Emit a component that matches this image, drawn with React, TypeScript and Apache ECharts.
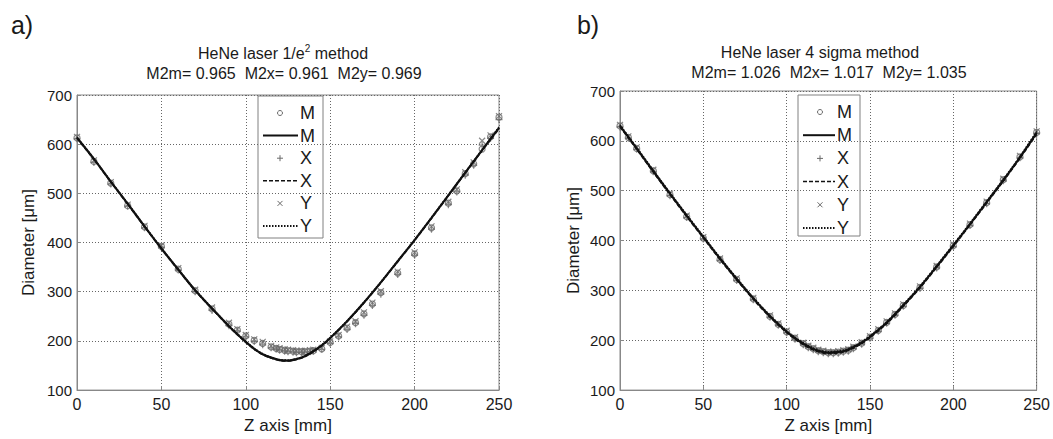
import React, { useEffect, useRef } from "react";
import * as echarts from "echarts";

const FONT = '"Liberation Sans", Arial, Helvetica, sans-serif';

// ---------- Panel a) HeNe laser 1/e^2 method ----------
const zPtsA = [0, 10, 20, 30, 40, 50, 60, 70, 80, 90, 95, 100, 105, 110, 115, 118, 120, 123, 125, 128, 130, 133, 135, 138, 140, 145, 150, 155, 160, 165, 170, 175, 180, 190, 200, 210, 220, 225, 230, 235, 240, 245, 250];
const mPtsA = [613, 565, 521, 475, 432, 392, 346, 302, 265, 234, 222, 210, 201, 195, 188, 185, 183, 181, 180, 179, 178, 178, 178, 179, 180, 184, 197, 210, 226, 237, 255, 275, 298, 338, 377, 430, 480, 505, 540, 560, 590, 615, 655];
const xPtsA = [611, 563, 519, 474, 430, 390, 344, 300, 262, 231, 220, 208, 199, 192, 186, 183, 181, 179, 178, 177, 176, 176, 177, 178, 179, 183, 195, 208, 223, 235, 252, 272, 295, 335, 374, 427, 477, 503, 537, 557, 598, 612, 650];
const yPtsA = [615, 567, 523, 477, 434, 394, 348, 304, 268, 237, 224, 212, 203, 198, 190, 187, 185, 183, 182, 181, 180, 180, 180, 181, 182, 186, 199, 212, 229, 240, 258, 278, 301, 341, 380, 433, 483, 508, 543, 563, 607, 618, 657];

const zFitA = [0, 10, 20, 30, 40, 50, 60, 70, 80, 90, 100, 105, 110, 115, 120, 125, 130, 135, 140, 145, 150, 160, 170, 180, 190, 200, 210, 220, 230, 240, 250];
const mFitA = [613, 570, 524, 479, 433, 388, 345, 303, 266, 230, 198, 184, 173, 166, 161, 160, 163, 169, 179, 191, 206, 240, 278, 319, 362, 405, 450, 496, 542, 588, 633];
const xFitA = [612, 569, 523, 478, 432, 387, 344, 302, 265, 229, 197, 183, 172, 165, 160, 159, 162, 168, 178, 190, 205, 239, 277, 318, 361, 404, 449, 495, 541, 587, 631];
const yFitA = [614, 571, 525, 480, 434, 389, 346, 304, 267, 231, 199, 185, 174, 167, 162, 161, 164, 170, 180, 192, 207, 241, 279, 320, 363, 406, 451, 497, 543, 589, 635];

// ---------- Panel b) HeNe laser 4 sigma method ----------
const zPtsB = [0, 5, 10, 20, 30, 40, 50, 60, 70, 80, 90, 95, 100, 105, 110, 113, 116, 119, 122, 125, 128, 131, 134, 137, 140, 145, 150, 155, 160, 165, 170, 180, 190, 200, 210, 220, 230, 240, 250];
const mPtsB = [630, 607, 585, 540, 492, 448, 405, 362, 322, 283, 248, 232, 217, 204, 193, 187, 183, 179, 177, 175, 175, 176, 178, 180, 185, 194, 206, 220, 236, 252, 270, 306, 347, 390, 432, 476, 522, 568, 617];
const xPtsB = [628, 605, 583, 538, 490, 446, 403, 360, 320, 281, 246, 230, 215, 202, 191, 185, 181, 177, 175, 173, 173, 174, 176, 178, 183, 192, 204, 218, 234, 250, 268, 304, 345, 388, 430, 474, 520, 566, 615];
const yPtsB = [632, 609, 587, 542, 494, 450, 407, 364, 324, 285, 250, 234, 219, 206, 195, 189, 185, 181, 179, 177, 177, 178, 180, 182, 187, 196, 208, 222, 238, 254, 272, 308, 349, 392, 434, 478, 524, 570, 619];

const zFitB = [0, 10, 20, 30, 40, 50, 60, 70, 80, 90, 100, 105, 110, 115, 120, 125, 130, 135, 140, 145, 150, 160, 170, 180, 190, 200, 210, 220, 230, 240, 250];
const mFitB = [630, 585, 539, 494, 450, 407, 364, 323, 284, 248, 217, 204, 193, 184, 178, 175, 176, 179, 186, 195, 207, 235, 270, 307, 348, 390, 433, 477, 521, 567, 616];
const xFitB = [628, 583, 537, 492, 448, 405, 362, 321, 282, 246, 215, 202, 191, 182, 176, 173, 174, 177, 184, 193, 205, 233, 268, 305, 346, 388, 431, 475, 519, 565, 613];
const yFitB = [632, 587, 541, 496, 452, 409, 366, 325, 286, 250, 219, 206, 195, 186, 180, 177, 178, 181, 188, 197, 209, 237, 272, 309, 350, 392, 435, 479, 523, 569, 619];

const xTicks = { min: 0, max: 250, interval: 50 };
const yTicks = { min: 100, max: 700, interval: 100 };
const titlesA = ["{n|HeNe laser 1/e}{s|2}{n| method}", "M2m= 0.965  M2x= 0.961  M2y= 0.969"];
const titlesB = ["{n|HeNe laser 4 sigma method}", "M2m= 1.026  M2x= 1.017  M2y= 1.035"];
const legendLabels = ["M", "M", "X", "X", "Y", "Y"];

const pair = (xs: number[], ys: number[]) => xs.map((x, i) => [x, ys[i]]);

const MARK = "#6a6a6a";
const LINE = "#111";
const TXT = "#1a1a1a";

function legendGroup(x0: number, y0: number, w: number, h: number, dy: number, lineEnd: number) {
  const children: any[] = [
    { type: "rect", shape: { x: 0, y: 0, width: w, height: h }, style: { fill: "#fff", stroke: "#808080", lineWidth: 1 } },
  ];
  const cy = (i: number) => 17 + dy * i;
  const mx = 22;
  children.push({ type: "circle", shape: { cx: mx, cy: cy(0), r: 2.5 }, style: { fill: "none", stroke: MARK, lineWidth: 1 } });
  children.push({ type: "line", shape: { x1: 5, y1: cy(1), x2: lineEnd, y2: cy(1) }, style: { stroke: LINE, lineWidth: 2 } });
  children.push({ type: "line", shape: { x1: mx - 3, y1: cy(2), x2: mx + 3, y2: cy(2) }, style: { stroke: MARK, lineWidth: 1 } });
  children.push({ type: "line", shape: { x1: mx, y1: cy(2) - 3, x2: mx, y2: cy(2) + 3 }, style: { stroke: MARK, lineWidth: 1 } });
  children.push({ type: "line", shape: { x1: 5, y1: cy(3), x2: lineEnd, y2: cy(3) }, style: { stroke: LINE, lineWidth: 1.5, lineDash: [4, 2] } });
  children.push({ type: "line", shape: { x1: mx - 2.5, y1: cy(4) - 2.5, x2: mx + 2.5, y2: cy(4) + 2.5 }, style: { stroke: MARK, lineWidth: 1 } });
  children.push({ type: "line", shape: { x1: mx - 2.5, y1: cy(4) + 2.5, x2: mx + 2.5, y2: cy(4) - 2.5 }, style: { stroke: MARK, lineWidth: 1 } });
  children.push({ type: "line", shape: { x1: 5, y1: cy(5), x2: lineEnd, y2: cy(5) }, style: { stroke: LINE, lineWidth: 2, lineDash: [1.5, 1.5] } });
  legendLabels.forEach((t, i) => {
    children.push({
      type: "text",
      x: lineEnd + 2,
      y: cy(i),
      style: { text: t, fill: TXT, fontSize: 18, fontFamily: FONT, align: "left", verticalAlign: "middle", textAlign: "left", textVerticalAlign: "middle" },
    });
  });
  return { type: "group", x: x0, y: y0, z: 100, children };
}

function textEl(text: string, x: number, y: number, fontSize: number, rich?: any) {
  return {
    type: "text",
    x,
    y,
    z: 100,
    style: {
      text,
      fill: TXT,
      fontSize,
      fontFamily: FONT,
      align: "center",
      verticalAlign: "middle",
      textAlign: "center",
      textVerticalAlign: "middle",
      rich,
    },
  };
}

const rich = {
  n: { fontSize: 16, fontFamily: FONT, color: TXT, lineHeight: 20 },
  s: { fontSize: 10, fontFamily: FONT, color: TXT, lineHeight: 20, verticalAlign: "top", padding: [0, 0, 0, 0] },
};

function axisX(gridIndex: number) {
  return {
    gridIndex,
    type: "value",
    ...xTicks,
    name: "Z axis [mm]",
    nameLocation: "middle",
    nameGap: 22,
    nameTextStyle: { fontSize: 17, color: TXT, fontFamily: FONT },
    axisLine: { show: true, onZero: false, lineStyle: { color: "#888" } },
    axisTick: { show: true, inside: true, length: 4, lineStyle: { color: "#888" } },
    axisLabel: { fontSize: 16, color: TXT, fontFamily: FONT, margin: 6 },
    splitLine: { show: true, lineStyle: { type: [1, 2], color: "#666", width: 1 } },
  };
}

function axisY(gridIndex: number, nameGap: number) {
  return {
    gridIndex,
    type: "value",
    ...yTicks,
    name: "Diameter [\u03bcm]",
    nameLocation: "middle",
    nameGap,
    nameTextStyle: { fontSize: 17, color: TXT, fontFamily: FONT },
    axisLine: { show: true, onZero: false, lineStyle: { color: "#888" } },
    axisTick: { show: true, inside: true, length: 4, lineStyle: { color: "#888" } },
    axisLabel: { fontSize: 15, color: TXT, fontFamily: FONT, margin: 5 },
    splitLine: { show: true, lineStyle: { type: [1, 2], color: "#666", width: 1 } },
  };
}

const PLUS = "path://M0,4L8,4M4,0L4,8";
const CROSS = "path://M0,0L8,8M0,8L8,0";

function panelSeries(idx: number, zP: number[], m: number[], x: number[], y: number[], zF: number[], mf: number[], xf: number[], yf: number[]) {
  const base = { xAxisIndex: idx, yAxisIndex: idx, silent: true };
  return [
    { ...base, type: "scatter", data: pair(zP, m), symbol: "circle", symbolSize: 6, itemStyle: { color: "transparent", borderColor: MARK, borderWidth: 1.2 } },
    { ...base, type: "scatter", data: pair(zP, x), symbol: PLUS, symbolSize: 7, itemStyle: { color: "transparent", borderColor: MARK, borderWidth: 1.2 } },
    { ...base, type: "scatter", data: pair(zP, y), symbol: CROSS, symbolSize: 6, itemStyle: { color: "transparent", borderColor: MARK, borderWidth: 1.2 } },
    { ...base, type: "line", data: pair(zF, mf), symbol: "none", smooth: 0.3, lineStyle: { color: LINE, width: 2.2 } },
    { ...base, type: "line", data: pair(zF, xf), symbol: "none", smooth: 0.3, lineStyle: { color: LINE, width: 1.5, type: [4, 2] } },
    { ...base, type: "line", data: pair(zF, yf), symbol: "none", smooth: 0.3, lineStyle: { color: LINE, width: 1.5, type: [1.5, 1.5] } },
  ];
}

export default function App() {
  const ref = useRef<HTMLDivElement>(null);
  useEffect(() => {
    if (!ref.current) return;
    const chart = echarts.init(ref.current, undefined, { renderer: "svg" });
    chart.setOption({
      animation: false,
      backgroundColor: "#fff",
      textStyle: { fontFamily: FONT },
      grid: [
        { left: 77, top: 95, width: 422, height: 304, show: true, borderColor: "#888", borderWidth: 1, backgroundColor: "transparent" },
        { left: 620, top: 91, width: 417, height: 308, show: true, borderColor: "#888", borderWidth: 1, backgroundColor: "transparent" },
      ],
      xAxis: [axisX(0), axisX(1)],
      yAxis: [axisY(0, 40), axisY(1, 38)],
      series: [
        ...panelSeries(0, zPtsA, mPtsA, xPtsA, yPtsA, zFitA, mFitA, xFitA, yFitA),
        ...panelSeries(1, zPtsB, mPtsB, xPtsB, yPtsB, zFitB, mFitB, xFitB, yFitB),
      ],
      graphic: [
        textEl("a)", 22, 25, 25),
        textEl("b)", 588, 25, 25),
        textEl(titlesA[0], 283, 53, 16, rich),
        textEl(titlesA[1], 284, 73, 16),
        textEl(titlesB[0], 820, 52, 16, rich),
        textEl(titlesB[1], 829, 72, 16),
        legendGroup(258, 96, 65, 142, 22.6, 40),
        legendGroup(798, 95, 62, 141, 23.2, 37),
      ],
    });
    return () => chart.dispose();
  }, []);
  return <div ref={ref} style={{ position: "fixed", left: 0, top: 0, width: 1053, height: 439, background: "#fff" }} />;
}
